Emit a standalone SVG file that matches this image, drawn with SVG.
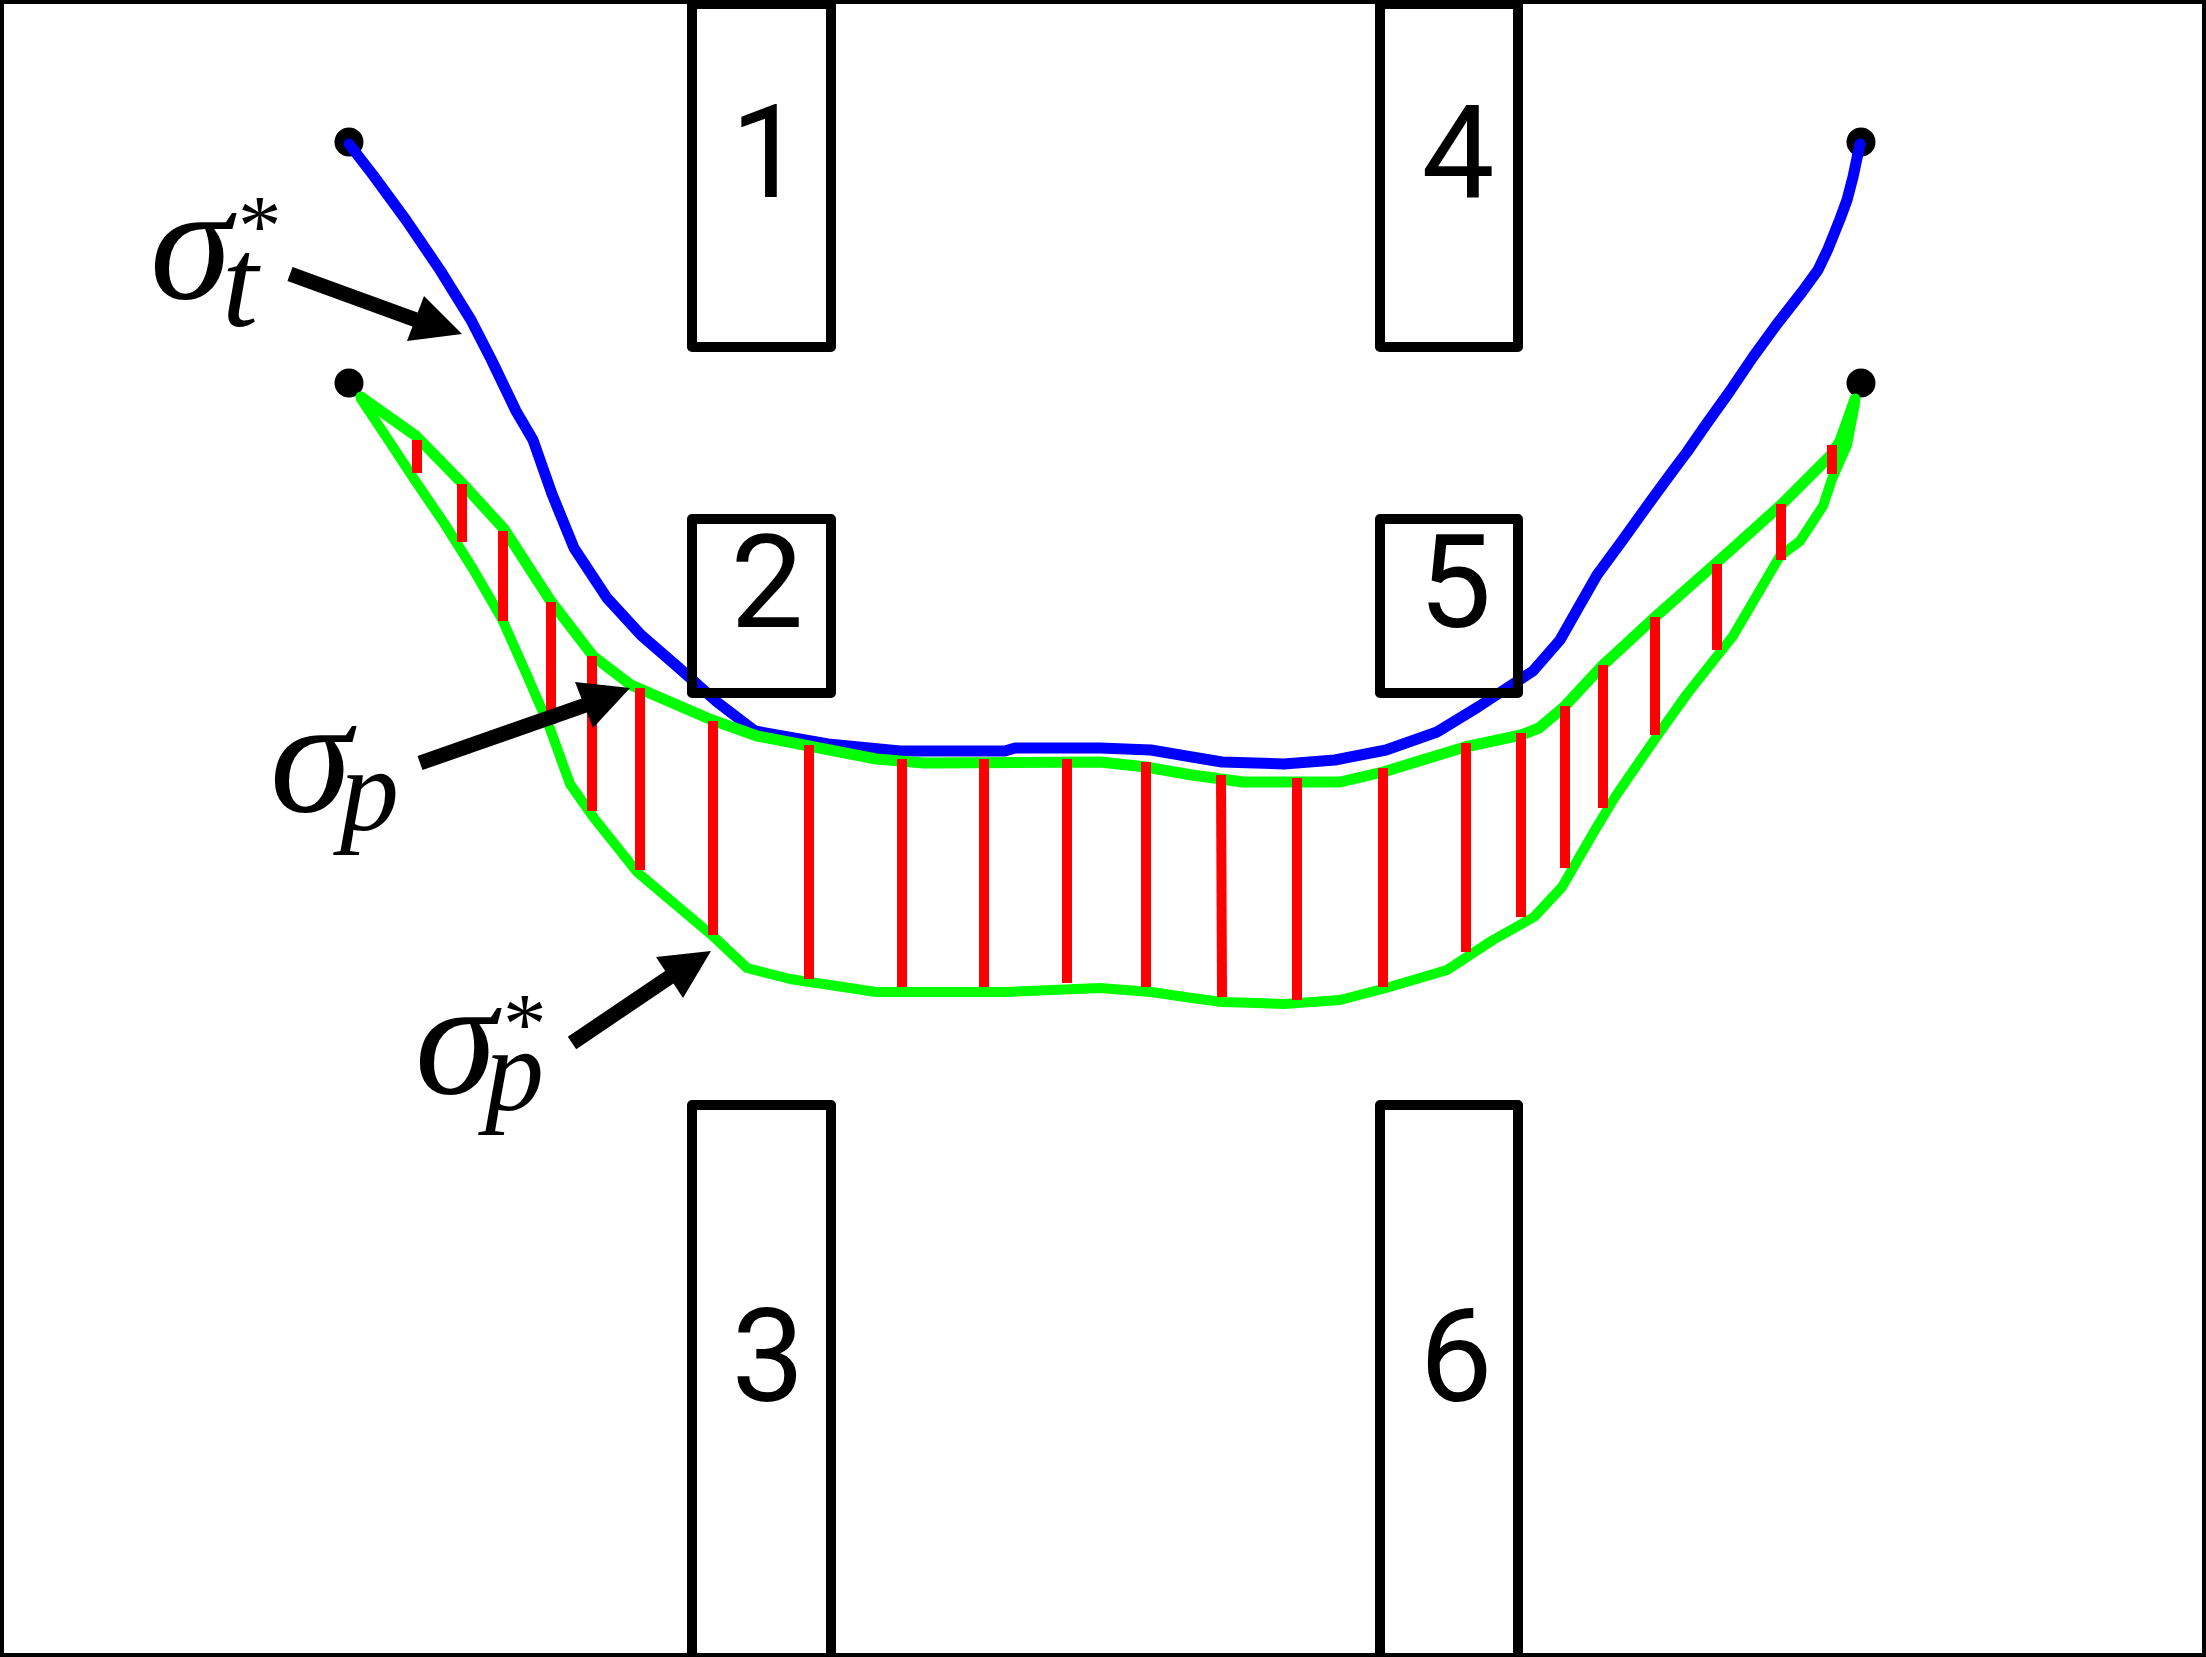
<svg xmlns="http://www.w3.org/2000/svg" width="2206" height="1657" viewBox="0 0 2206 1657">
<style>
.box{fill:none;stroke:#000;stroke-width:10;stroke-linejoin:round}
.dig{font-family:Roboto,"Liberation Sans",Arial,sans-serif;font-size:130px;font-weight:400;fill:#000;text-anchor:middle}
.math{font-family:"Liberation Serif","Times New Roman",serif;font-style:italic;fill:#000}
.dot{fill:#000}
.blue{fill:none;stroke:#0000ff;stroke-width:11;stroke-linejoin:round;stroke-linecap:round}
.green{fill:none;stroke:#00ff00;stroke-width:11;stroke-linejoin:round;stroke-linecap:round}
.thin{stroke-width:10}
.red{stroke:#ff0000;stroke-width:10;fill:none}
.arrow{stroke:#000;stroke-width:15;fill:none}
.head{fill:#000}
</style>
<rect x="0" y="0" width="2206" height="1657" fill="#fff"/>
<rect x="2" y="2" width="2202" height="1653" fill="none" stroke="#000" stroke-width="4"/>
<g id="start-points">
<circle class="dot" cx="349" cy="142" r="14.5"/>
<circle class="dot" cx="349" cy="383" r="14.5"/>
<circle class="dot" cx="1861" cy="142" r="14.5"/>
<circle class="dot" cx="1861" cy="383" r="14.5"/>
</g>
<g id="connectors">
<polyline id="sigma-t-star" class="blue" points="349,144 373,175 406,220 440,270 471,320 492,361 516,411 533,440 552,494 574,548 607,598 641,635 679,668 717,702 755,731 828,744 900,751 1005,751 1015,748 1100,748 1151,750 1192,757 1222,762 1284,764 1335,760 1386,750 1437,732 1478,707 1507,688 1533,671 1560,640 1577,610 1597,575 1622,541 1650,502 1672,472 1687,452 1705,426 1730,391 1753,357 1777,324 1802,292 1818,270 1828,249 1840,219 1847,200 1853,177 1860,144"/>
<polyline id="sigma-p" class="green" points="361,397 416,436 461,482 504,529 550,600 593,656 631,685 712,720 757,736 809,746 876,759 924,763 1100,762 1146,767 1192,775 1243,782 1340,782 1383,772 1465,747 1521,735 1539,728 1564,707 1602,666 1654,618 1715,564 1733,548 1782,504 1830,456 1840,441 1855,399"/>
<polyline id="sigma-p-star" class="green thin" points="361,399 387,438 416,482 444,523 473,569 502,619 526,673 549,726 570,784 594,818 637,872 714,937 747,968 790,979 843,987 876,992 1005,992 1100,988 1151,992 1192,998 1222,1002 1284,1004 1340,1000 1386,988 1447,970 1493,940 1534,917 1562,887 1595,830 1615,797 1655,739 1687,694 1733,636 1780,556 1800,541 1823,506 1832,479 1847,445 1855,403"/>
<g id="errors">
<line class="red" x1="417" y1="440" x2="417" y2="473"/>
<line class="red" x1="462" y1="484" x2="462" y2="542"/>
<line class="red" x1="503" y1="531" x2="503" y2="621"/>
<line class="red" x1="551" y1="602" x2="551" y2="724"/>
<line class="red" x1="592" y1="656" x2="592" y2="811"/>
<line class="red" x1="640" y1="688" x2="640" y2="870"/>
<line class="red" x1="713" y1="721" x2="713" y2="935"/>
<line class="red" x1="809" y1="745" x2="809" y2="979"/>
<line class="red" x1="902" y1="759" x2="902" y2="987"/>
<line class="red" x1="984" y1="759" x2="984" y2="987"/>
<line class="red" x1="1067" y1="759" x2="1067" y2="983"/>
<line class="red" x1="1146" y1="762" x2="1146" y2="987"/>
<line class="red" x1="1221" y1="775" x2="1222" y2="997"/>
<line class="red" x1="1297" y1="778" x2="1297" y2="1000"/>
<line class="red" x1="1383" y1="768" x2="1383" y2="987"/>
<line class="red" x1="1466" y1="743" x2="1466" y2="952"/>
<line class="red" x1="1521" y1="733" x2="1521" y2="917"/>
<line class="red" x1="1565" y1="706" x2="1565" y2="868"/>
<line class="red" x1="1603" y1="665" x2="1603" y2="808"/>
<line class="red" x1="1655" y1="617" x2="1655" y2="735"/>
<line class="red" x1="1717" y1="564" x2="1717" y2="650"/>
<line class="red" x1="1781" y1="504" x2="1781" y2="560"/>
<line class="red" x1="1832" y1="445" x2="1832" y2="474"/>
</g>
<g id="arrows">
<line class="arrow" x1="290" y1="274" x2="430" y2="325"/>
<polygon class="head" points="462,334 424,296 407,341"/>
<line class="arrow" x1="420" y1="763" x2="600" y2="700"/>
<polygon class="head" points="630,688 575,682 593,728"/>
<line class="arrow" x1="572" y1="1043" x2="680" y2="970"/>
<polygon class="head" points="711,951 656,957 683,998"/>
</g>
</g>
<g id="box-1"><rect class="box" x="692" y="4" width="139" height="343"/><text class="dig" x="767" y="197">1</text></g>
<g id="box-2"><rect class="box" x="692" y="519" width="139" height="174"/><text class="dig" x="767" y="627">2</text></g>
<g id="box-3"><rect class="box" x="692" y="1105" width="139" height="560"/><text class="dig" x="768" y="1401">3</text></g>
<g id="box-4"><rect class="box" x="1380" y="4" width="138" height="343"/><text class="dig" x="1458" y="197">4</text></g>
<g id="box-5"><rect class="box" x="1380" y="519" width="138" height="174"/><text class="dig" x="1455" y="627">5</text></g>
<g id="box-6"><rect class="box" x="1380" y="1105" width="138" height="560"/><text class="dig" x="1456" y="1401">6</text></g>
<g id="label-sigma-t-star"><text class="math"><tspan x="150" y="298" font-size="165">σ</tspan><tspan x="222" y="326" font-size="130">t</tspan><tspan x="238" y="255" font-size="87" font-style="normal">*</tspan></text></g>
<g id="label-sigma-p"><text class="math"><tspan x="270" y="811" font-size="165">σ</tspan><tspan x="340" y="830" font-size="118">p</tspan></text></g>
<g id="label-sigma-p-star"><text class="math"><tspan x="415" y="1093" font-size="165">σ</tspan><tspan x="485" y="1110" font-size="118">p</tspan><tspan x="503" y="1053" font-size="87" font-style="normal">*</tspan></text></g>
</svg>
